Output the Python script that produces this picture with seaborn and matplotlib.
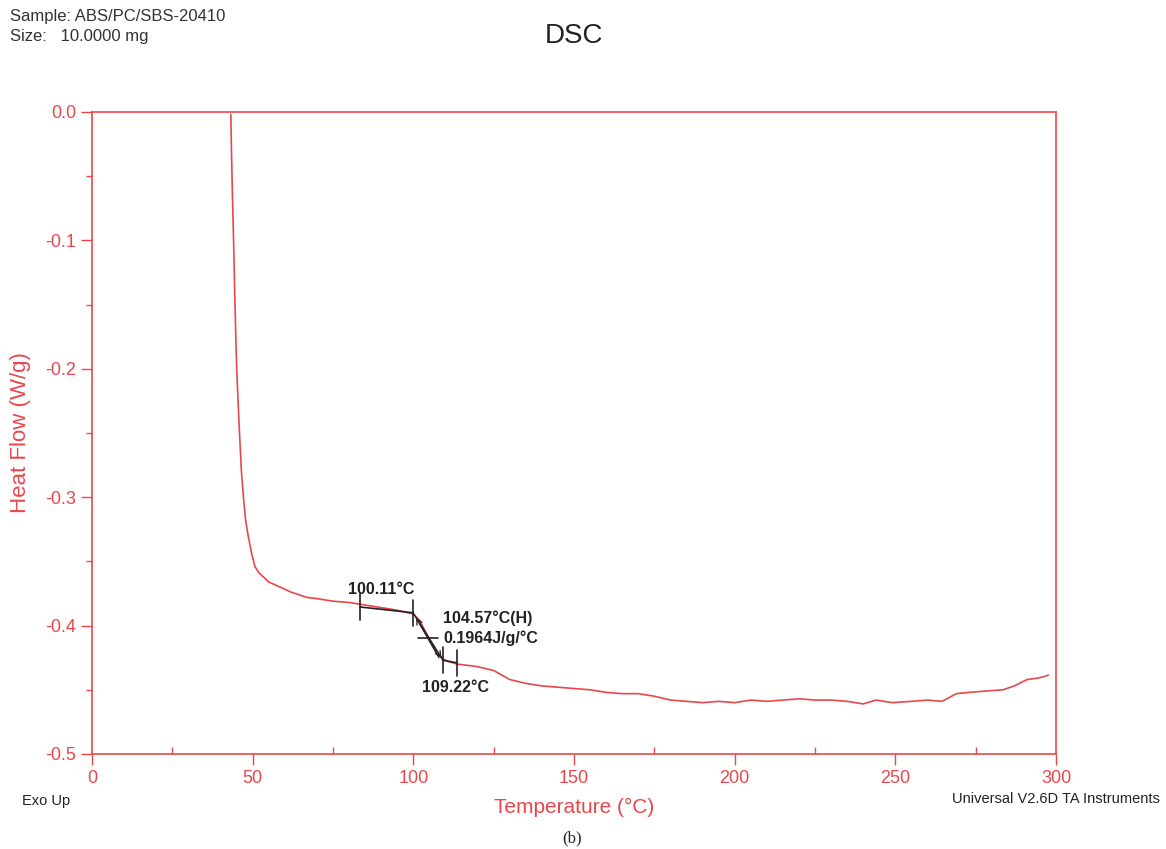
import matplotlib
matplotlib.use("Agg")
import matplotlib.pyplot as plt
from matplotlib.ticker import MultipleLocator
import pandas as pd
import seaborn as sns

# DSC trace
temp = [43.2, 43.4, 43.7, 44.0, 44.5, 45.0, 45.5, 45.9, 46.5, 47.2, 47.8, 48.6, 49.6,
        50.7, 52.0, 53.3, 55.0, 58.5, 62.0, 66.8, 70.0, 75.0, 80.0, 85.0, 90.0, 95.0,
        100.0, 102.0, 104.6, 107.0, 109.2, 111.0, 113.6, 117.0, 120.0, 125.0, 130.0,
        135.0, 140.0, 145.0, 150.0, 155.0, 160.0, 165.0, 170.0, 175.0, 180.0, 185.0,
        190.0, 195.0, 200.0, 205.0, 210.0, 215.0, 220.0, 225.0, 230.0, 235.0, 240.0,
        244.0, 249.0, 255.0, 260.0, 264.5, 269.0, 273.0, 278.0, 283.5, 287.0, 291.0,
        294.0, 296.0, 297.6]
heat_flow = [-0.002, -0.030, -0.065, -0.094, -0.150, -0.198, -0.228, -0.250, -0.280,
             -0.302, -0.318, -0.330, -0.343, -0.354, -0.359, -0.362, -0.366, -0.370,
             -0.374, -0.378, -0.379, -0.381, -0.382, -0.384, -0.386, -0.388, -0.391,
             -0.396, -0.409, -0.420, -0.426, -0.428, -0.430, -0.431, -0.432, -0.435,
             -0.442, -0.445, -0.447, -0.448, -0.449, -0.450, -0.452, -0.453, -0.453,
             -0.455, -0.458, -0.459, -0.460, -0.459, -0.460, -0.458, -0.459, -0.458,
             -0.457, -0.458, -0.458, -0.459, -0.461, -0.458, -0.460, -0.459, -0.458,
             -0.459, -0.453, -0.452, -0.451, -0.450, -0.447, -0.442, -0.441, -0.440,
             -0.4385]

# glass transition analysis marks
onset_t = [83.4, 99.9]
onset_hf = [-0.3855, -0.390]
end_t = [109.2, 113.6]
end_hf = [-0.427, -0.429]
mid_t = 104.6
mid_hf = -0.410

red = "#e8474c"
df = pd.DataFrame({"Temperature": temp, "Heat Flow": heat_flow})

sns.set_style("ticks")
plt.rcParams["font.family"] = ["Liberation Sans", "DejaVu Sans"]

fig = plt.figure(figsize=(11.66, 8.49), dpi=100)
ax = fig.add_axes([0.0789, 0.1119, 0.8268, 0.7562])
sns.lineplot(data=df, x="Temperature", y="Heat Flow", color=red, lw=1.2, ax=ax, sort=False)

# tangent lines and marks
ax.plot(onset_t, onset_hf, color="#222222", lw=1.2)
ax.plot([onset_t[1], end_t[0]], [onset_hf[1], end_hf[0]], color="#222222", lw=1.0)
ax.plot(end_t, end_hf, color="#222222", lw=1.2)
for t, h in zip(onset_t + end_t, onset_hf + end_hf):
    ax.plot([t, t], [h - 0.010, h + 0.010], color="#222222", lw=1.2)
ax.plot([mid_t - 3, mid_t + 3], [mid_hf, mid_hf], color="#222222", lw=1.2)
ax.annotate("", xy=(end_t[0], end_hf[0]), xytext=(onset_t[1] + 0.5, onset_hf[1] - 0.002),
            arrowprops=dict(arrowstyle="->", color="#222222", lw=0.9))
ax.annotate("", xy=(onset_t[1] + 0.5, onset_hf[1] - 0.002), xytext=(end_t[0] - 0.8, end_hf[0]),
            arrowprops=dict(arrowstyle="->", color="#222222", lw=0.9))

ax.text(90.0, -0.372, "100.11°C", fontsize=11.5, fontweight="bold", ha="center", va="center",
        color="#222222")
ax.text(109.3, -0.394, "104.57°C(H)", fontsize=11.5, fontweight="bold", ha="left", va="center",
        color="#222222")
ax.text(109.3, -0.4095, "0.1964J/g/°C", fontsize=11.5, fontweight="bold", ha="left", va="center",
        color="#222222")
ax.text(113.0, -0.4485, "109.22°C", fontsize=11.5, fontweight="bold", ha="center", va="center",
        color="#222222")

ax.set_xlim(0, 300)
ax.set_ylim(-0.5, 0.0)
ax.xaxis.set_major_locator(MultipleLocator(50))
ax.xaxis.set_minor_locator(MultipleLocator(25))
ax.yaxis.set_major_locator(MultipleLocator(0.1))
ax.yaxis.set_minor_locator(MultipleLocator(0.05))
ax.yaxis.set_major_formatter(matplotlib.ticker.FormatStrFormatter("%.1f"))
ax.tick_params(which="major", direction="out", length=8, color=red, labelcolor=red,
               labelsize=13, width=1)
ax.tick_params(axis="x", which="minor", direction="in", length=5, color=red, width=1)
ax.tick_params(axis="y", which="minor", direction="out", length=4, color=red, width=1)
for s in ax.spines.values():
    s.set_color(red)
    s.set_linewidth(1.2)

ax.set_xlabel("Temperature (°C)", color=red, fontsize=15, labelpad=8)
ax.set_ylabel("Heat Flow (W/g)", color=red, fontsize=16, labelpad=10)

fig.text(0.009, 0.981, "Sample: ABS/PC/SBS-20410", fontsize=12, va="center", color="#333333")
fig.text(0.009, 0.957, "Size:   10.0000 mg", fontsize=12, va="center", color="#333333")
fig.text(0.492, 0.958, "DSC", fontsize=20, ha="center", va="center", color="#222222")
fig.text(0.019, 0.057, "Exo Up", fontsize=10.5, va="center", color="#222222")
fig.text(0.995, 0.059, "Universal V2.6D TA Instruments", fontsize=10.5, ha="right", va="center",
         color="#222222")
fig.text(0.491, 0.013, "(b)", fontsize=12, ha="center", va="center", color="#222222",
         family="Liberation Serif")

fig.savefig("out.png", dpi=100)
